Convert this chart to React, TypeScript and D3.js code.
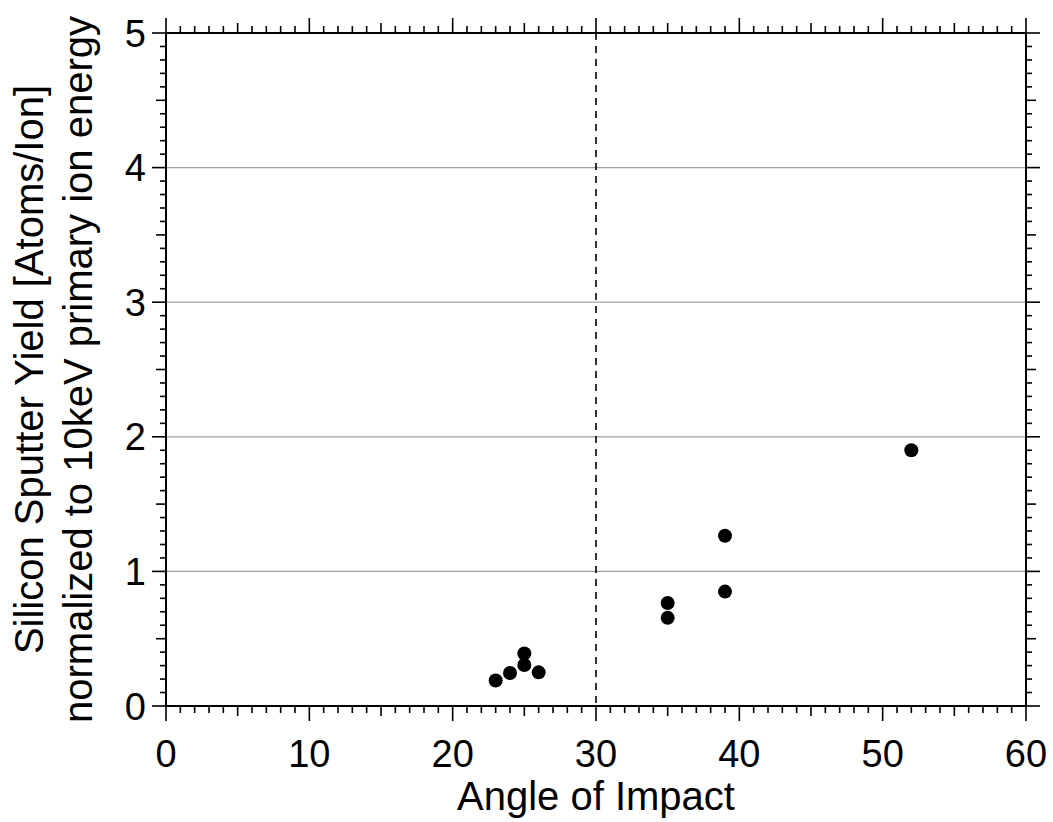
import React from "react";
import * as d3 from "d3";

const angles = [23, 24, 25, 25, 26, 35, 35, 39, 39, 52];
const yields = [0.19, 0.245, 0.39, 0.305, 0.25, 0.765, 0.655, 1.265, 0.85, 1.9];
const xTicks = [0, 10, 20, 30, 40, 50, 60];
const yTicks = [0, 1, 2, 3, 4, 5];
const gridValues = [1, 2, 3, 4];
const refAngle = 30;

const W = 1053;
const H = 822;
const L = 166, R = 1026, T = 33, B = 706;

export default function App() {
  const x = d3.scaleLinear().domain([0, 60]).range([L, R]);
  const y = d3.scaleLinear().domain([0, 5]).range([B, T]);
  const font = "Liberation Sans, Arial, Helvetica, sans-serif";
  const xMinor = d3.range(0, 61, 1);
  const yMinor = d3.range(0, 51, 1).map((v) => v / 10);
  const xLen = (v: number) => (v % 10 === 0 ? 15 : v % 5 === 0 ? 10 : 7);
  const yLen = (i: number) => (i % 10 === 0 ? 14 : i % 5 === 0 ? 10 : 6);
  const tickFs = 38;
  const titleFs = 40;
  const cy = (T + B) / 2;

  return (
    <svg width={W} height={H} style={{ position: "absolute", left: 0, top: 0, background: "#fff" }}>
      <rect x={0} y={0} width={W} height={H} fill="#fff" />
      {gridValues.map((g) => (
        <line key={"g" + g} x1={L} x2={R} y1={y(g)} y2={y(g)} stroke="#a0a0a0" strokeWidth={1.2} />
      ))}
      <line x1={x(refAngle)} x2={x(refAngle)} y1={T} y2={B} stroke="#000" strokeWidth={1.6} strokeDasharray="7,6" />
      {/* bottom & top ticks */}
      {xMinor.map((v) => (
        <g key={"xt" + v}>
          <line x1={x(v)} x2={x(v)} y1={B} y2={B + xLen(v)} stroke="#000" strokeWidth={1.6} />
          <line x1={x(v)} x2={x(v)} y1={T} y2={T - xLen(v)} stroke="#000" strokeWidth={1.6} />
        </g>
      ))}
      {yMinor.map((v, i) => (
        <g key={"yt" + i}>
          <line x1={L} x2={L - yLen(i)} y1={y(v)} y2={y(v)} stroke="#000" strokeWidth={1.6} />
          <line x1={R} x2={R + yLen(i)} y1={y(v)} y2={y(v)} stroke="#000" strokeWidth={1.6} />
        </g>
      ))}
      <rect x={L} y={T} width={R - L} height={B - T} fill="none" stroke="#000" strokeWidth={2} />
      {xTicks.map((v) => (
        <text key={"xl" + v} x={x(v)} y={767} textAnchor="middle" fontFamily={font} fontSize={tickFs} fill="#000">
          {v}
        </text>
      ))}
      {yTicks.map((v) => (
        <text key={"yl" + v} x={146} y={y(v) + 0.36 * tickFs} textAnchor="end" fontFamily={font} fontSize={tickFs} fill="#000">
          {v}
        </text>
      ))}
      <text x={(L + R) / 2} y={810} textAnchor="middle" fontFamily={font} fontSize={titleFs} fill="#000">
        Angle of Impact
      </text>
      <text transform={`translate(43,${cy}) rotate(-90)`} textAnchor="middle" fontFamily={font} fontSize={titleFs} fill="#000">
        Silicon Sputter Yield [Atoms/Ion]
      </text>
      <text transform={`translate(92,${cy}) rotate(-90)`} textAnchor="middle" fontFamily={font} fontSize={titleFs} fill="#000">
        normalized to 10keV primary ion energy
      </text>
      {angles.map((a, i) => (
        <circle key={"p" + i} cx={x(a)} cy={y(yields[i])} r={7} fill="#000" />
      ))}
    </svg>
  );
}
